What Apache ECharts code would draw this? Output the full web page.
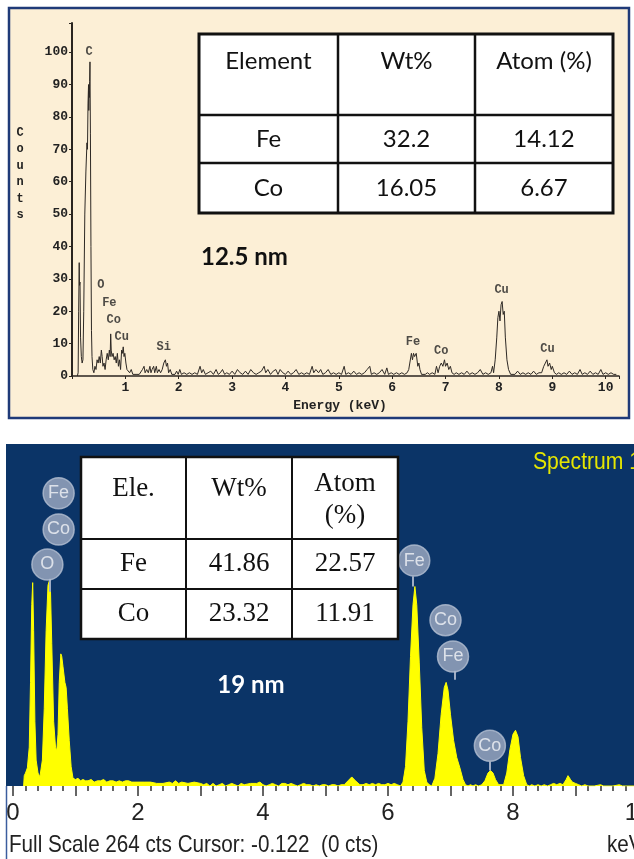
<!DOCTYPE html>
<html>
<head>
<meta charset="utf-8">
<script src="https://cdn.jsdelivr.net/npm/echarts@6/dist/echarts.min.js"></script>
<style>
html,body{margin:0;padding:0;background:#fff;}
#chart{width:634px;height:859px;}
</style>
</head>
<body>
<div id="chart"></div>
<script>
// ---------- DATA ----------
// Top panel (12.5 nm): EDS spectrum, [energy keV, counts]
const topSpectrum = [
[0.10,0],[0.115,1],[0.125,20],[0.135,35],[0.14,28],[0.15,29],[0.16,12],[0.175,6],[0.19,4],[0.205,5],
[0.22,20],[0.24,50],[0.26,63],[0.28,72],[0.29,70],[0.30,84],[0.31,90],[0.315,82],[0.32,88],[0.325,86],
[0.33,91],[0.337,97],[0.345,75],[0.355,40],[0.365,14],[0.375,6],[0.39,2],[0.41,1],[0.43,3],[0.45,2],
[0.47,5],[0.49,4],[0.51,6],[0.53,4],[0.55,8],[0.565,6],[0.58,3],[0.60,4],[0.62,2],[0.64,5],
[0.66,7],[0.68,5],[0.70,8],[0.715,6],[0.725,13],[0.735,8],[0.75,6],[0.77,7],[0.79,5],[0.81,6],
[0.83,4],[0.85,7],[0.87,3],[0.89,5],[0.91,2],[0.93,8],[0.945,7],[0.96,9],[0.975,6],[0.99,7],
[1.01,4],[1.03,2],[1.05,2],[1.08,1],[1.11,2],[1.14,0.5],[1.17,1],[1.20,0.5],[1.23,1],[1.26,0.5],
[1.29,1],[1.32,2],[1.35,3],[1.37,1],[1.40,2],[1.43,1],[1.46,3],[1.48,1],[1.50,2],[1.53,3],
[1.55,1],[1.58,3],[1.60,1],[1.63,2],[1.66,1],[1.69,2],[1.72,4],[1.75,5],[1.77,3],[1.79,4],
[1.81,1],[1.84,2],[1.87,0.5],[1.90,1],[1.93,0.5],[1.96,1.5],[1.99,0.5],[2.02,2],[2.05,0.5],[2.10,1],
[2.15,0.5],[2.20,1],[2.25,0.5],[2.30,1],[2.35,0.5],[2.40,3],[2.43,1],[2.46,2],[2.50,0.5],[2.55,1],
[2.60,1.5],[2.65,0.5],[2.70,2],[2.74,0.5],[2.78,1],[2.82,2],[2.86,0.5],[2.90,1],[2.95,0.5],[3.00,1.5],
[3.05,0.5],[3.10,2],[3.15,1],[3.20,0.5],[3.25,1.5],[3.30,0.5],[3.35,2],[3.40,1],[3.45,0.5],[3.50,1],
[3.55,1.5],[3.60,3],[3.63,1],[3.67,2],[3.72,0.5],[3.77,1.5],[3.82,2],[3.86,0.5],[3.90,2],[3.95,1],
[4.00,0.5],[4.05,1.5],[4.10,0.5],[4.15,1],[4.20,2],[4.25,0.5],[4.30,1],[4.35,0.5],[4.40,1],[4.45,0.5],
[4.50,3],[4.53,1],[4.57,2],[4.62,1],[4.66,2],[4.70,0.5],[4.75,1],[4.80,2],[4.85,0.5],[4.90,1],
[4.95,0.5],[5.00,1],[5.05,0.5],[5.10,3],[5.13,0.5],[5.18,1],[5.23,0.5],[5.28,1.5],[5.33,0.5],[5.38,1],
[5.43,0.5],[5.48,1],[5.53,2],[5.58,3],[5.61,0.5],[5.66,1],[5.71,0.5],[5.76,1],[5.81,2],[5.86,0.5],
[5.90,2.5],[5.93,0.5],[5.98,1],[6.03,0.5],[6.08,1],[6.13,0.5],[6.18,1],[6.23,0.5],[6.28,1],[6.31,2],
[6.33,4],[6.36,7],[6.38,5],[6.40,7],[6.42,6],[6.45,7],[6.48,3],[6.50,4],[6.52,2],[6.55,0.5],
[6.58,1],[6.62,0.5],[6.66,1],[6.70,0.5],[6.75,1],[6.80,0.5],[6.83,3],[6.86,1],[6.89,3],[6.92,4],
[6.95,3],[6.98,5],[7.00,3],[7.03,4],[7.06,2],[7.09,3],[7.12,1],[7.16,0.5],[7.20,1],[7.25,0.5],
[7.30,1],[7.35,0.5],[7.40,1.5],[7.45,0.5],[7.50,1],[7.55,0.5],[7.60,1],[7.65,2],[7.70,0.5],[7.75,1],
[7.80,0.5],[7.85,1],[7.88,3],[7.90,1],[7.93,5],[7.96,12],[7.98,18],[8.00,20],[8.02,17],[8.04,22],
[8.06,23],[8.08,19],[8.10,20],[8.12,12],[8.15,5],[8.18,2],[8.22,0.5],[8.25,1],[8.30,0.5],[8.35,1.5],
[8.40,0.5],[8.45,1],[8.50,0.5],[8.55,1],[8.60,0.5],[8.65,1.5],[8.70,0.5],[8.75,1],[8.80,1],[8.84,3],
[8.87,4],[8.90,5],[8.92,3],[8.95,4],[8.98,2],[9.00,3],[9.04,1],[9.08,0.5],[9.12,1],[9.17,0.5],
[9.22,1],[9.27,0.5],[9.32,1.5],[9.37,0.5],[9.42,1],[9.47,0.5],[9.52,2],[9.56,0.5],[9.61,1],[9.66,0.5],
[9.71,1.5],[9.76,0.5],[9.81,1],[9.86,0.5],[9.91,2],[9.95,0.5],[10.00,1],[10.05,0.5],[10.10,1],[10.15,0.5],
[10.20,0.5]
];
// Top panel peak labels: [energy, counts, text]
const topPeakLabels = [
[0.32,100,'C'],[0.54,28,'O'],[0.70,22.6,'Fe'],[0.78,17.3,'Co'],[0.93,12,'Cu'],[1.72,8.9,'Si'],
[6.39,10.6,'Fe'],[6.92,7.7,'Co'],[8.05,26.5,'Cu'],[8.91,8.4,'Cu']
];
const topTickLabelsY = [0,10,20,30,40,50,60,70,80,90,100];
const topTableHeader = ['Element','Wt%','Atom (%)'];
const topTableRows = [['Fe','32.2','14.12'],['Co','16.05','6.67']];
const topSizeLabel = '12.5 nm';

// Bottom panel (19 nm): EDS spectrum, [energy keV, counts] (full scale 264 cts)
const bottomSpectrum = [
[0.17,0],[0.18,8],[0.20,10],[0.23,14],[0.26,30],[0.28,80],[0.30,140],[0.315,157],[0.33,120],[0.35,50],
[0.37,20],[0.40,10],[0.43,7],[0.45,8],[0.47,20],[0.50,60],[0.53,120],[0.56,155],[0.585,159],[0.60,150],
[0.62,110],[0.65,50],[0.68,30],[0.70,27],[0.72,40],[0.74,80],[0.765,102],[0.78,100],[0.80,92],[0.83,80],
[0.85,76],[0.87,60],[0.90,35],[0.93,15],[0.96,6],[1.00,5],[1.04,6],[1.08,4],[1.12,5],[1.16,4],
[1.20,4],[1.25,5],[1.30,3],[1.35,4],[1.40,4],[1.45,5],[1.50,3],[1.55,4],[1.60,4],[1.65,3],
[1.70,4],[1.75,3],[1.80,4],[1.85,4],[1.90,3],[1.95,3],[2.00,3],[2.10,3],[2.20,3],[2.30,2],
[2.40,2],[2.50,3],[2.55,2],[2.60,4],[2.65,2],[2.70,3],[2.80,2],[2.90,3],[3.00,2],[3.05,1],
[3.10,2],[3.15,0],[3.20,2],[3.25,0],[3.30,1],[3.35,2],[3.40,0],[3.45,1],[3.50,2],[3.55,1],
[3.60,0],[3.65,2],[3.70,1],[3.80,2],[3.90,2],[3.95,3],[4.00,1],[4.05,0],[4.10,1],[4.15,2],
[4.20,1],[4.25,0],[4.30,2],[4.35,2],[4.40,1],[4.45,2],[4.50,1],[4.55,0],[4.60,1],[4.65,2],
[4.70,1],[4.75,1],[4.80,0],[4.85,1],[4.90,0],[4.95,1],[5.00,1],[5.05,0],[5.10,1],[5.15,1],
[5.20,0],[5.25,1],[5.30,1],[5.36,4],[5.42,7],[5.48,4],[5.55,1],[5.60,1],[5.65,2],[5.70,1],
[5.75,2],[5.80,1],[5.85,2],[5.90,1],[5.95,1],[6.00,2],[6.05,1],[6.10,2],[6.15,1],[6.20,0],
[6.24,3],[6.28,15],[6.32,50],[6.36,100],[6.40,140],[6.43,154],[6.46,140],[6.50,95],[6.54,45],[6.58,12],
[6.62,3],[6.66,1],[6.70,0],[6.72,1],[6.75,6],[6.80,25],[6.85,55],[6.90,76],[6.93,80],[6.96,74],
[7.00,55],[7.05,35],[7.10,22],[7.15,14],[7.20,5],[7.24,1],[7.28,0],[7.32,1],[7.36,0],[7.40,1],
[7.45,0],[7.50,1],[7.55,4],[7.60,10],[7.64,12],[7.68,10],[7.72,5],[7.77,1],[7.80,0],[7.85,1],
[7.90,10],[7.95,28],[8.00,40],[8.04,43],[8.08,38],[8.12,22],[8.17,8],[8.22,1],[8.26,0],[8.30,1],
[8.35,0],[8.40,1],[8.45,0],[8.50,1],[8.55,0],[8.60,1],[8.65,2],[8.70,1],[8.75,2],[8.80,1],
[8.85,5],[8.88,8],[8.92,5],[8.95,3],[9.00,2],[9.05,1],[9.10,0],[9.15,1],[9.20,0],[9.30,0],
[9.40,1],[9.45,0],[9.60,0],[9.70,1],[9.75,0],[10.00,0]
];
// Bottom panel element bubbles: [energy, counts, text]
const bottomBubbles = [
[0.73,226,'Fe'],[0.73,198,'Co'],[0.55,171,'O'],[6.42,174,'Fe'],[6.92,128,'Co'],[7.04,100,'Fe'],[7.63,31,'Co']
];
// Bubble stems: [energy, fromCounts, toCounts]
const bottomStems = [[0.58,160,150],[6.39,162,154],[7.06,89,82],[7.63,19,12]];
const bottomTableHeader = ['Ele.','Wt%','Atom\n(%)'];
const bottomTableRows = [['Fe','41.86','22.57'],['Co','23.32','11.91']];
const bottomSizeLabel = '19 nm';
const bottomSpectrumName = 'Spectrum 1';
const bottomStatus = 'Full Scale 264 cts Cursor: -0.122  (0 cts)';
const bottomUnit = 'keV';

// ---------- LAYOUT ----------
const SANS = '"Liberation Sans",Arial,sans-serif';
const MONO = '"Liberation Mono","DejaVu Sans Mono",monospace';

function table(cols, rows, header, body, opt) {
  const els = [];
  els.push({type:'rect', z:20, shape:{x:cols[0],y:rows[0],width:cols[cols.length-1]-cols[0],height:rows[rows.length-1]-rows[0]},
    style:{fill:'#ffffff', stroke:'#111', lineWidth:opt.outer}});
  for (let i=1;i<cols.length-1;i++) els.push({type:'line', z:21, shape:{x1:cols[i],y1:rows[0],x2:cols[i],y2:rows[rows.length-1]}, style:{stroke:'#111',lineWidth:opt.inner}});
  for (let j=1;j<rows.length-1;j++) els.push({type:'line', z:21, shape:{x1:cols[0],y1:rows[j],x2:cols[cols.length-1],y2:rows[j]}, style:{stroke:'#111',lineWidth:opt.inner}});
  header.forEach((h,i)=>{
    const multi = h.indexOf('\n')>=0;
    els.push({type:'text', z:22, x:(cols[i]+cols[i+1])/2, y: multi ? opt.headerYMulti : opt.headerY,
      style:{text:h, fill:'#111', font:opt.font, align:'center', verticalAlign:'middle', lineHeight:opt.lineHeight}});
  });
  body.forEach((r,j)=>{
    r.forEach((c,i)=>{
      els.push({type:'text', z:22, x:(cols[i]+cols[i+1])/2, y:(rows[j+1]+rows[j+2])/2,
        style:{text:c, fill:'#111', font:opt.font, align:'center', verticalAlign:'middle'}});
    });
  });
  return els;
}

const graphics = [
  {type:'rect', z:-10, shape:{x:9,y:8,width:620,height:410}, style:{fill:'#fcefd6', stroke:'#1f3a78', lineWidth:2.5}},
  {type:'rect', z:-10, shape:{x:6,y:444,width:628,height:342}, style:{fill:'#0b3467'}},
  {type:'line', z:-9, shape:{x1:6.5,y1:786,x2:6.5,y2:859}, style:{stroke:'#3b5d9e', lineWidth:1.5}},
  {type:'text', x:20, y:174, style:{text:'C\no\nu\nn\nt\ns', font:'bold 12px '+MONO, fill:'#222', align:'center', verticalAlign:'middle', lineHeight:16.5}},
  {type:'text', x:340, y:406, style:{text:'Energy (keV)', font:'bold 13px '+MONO, fill:'#222', align:'center', verticalAlign:'middle'}},
  {type:'text', x:201, y:257, style:{text:topSizeLabel, font:'bold 24px Lato, sans-serif', fill:'#111', align:'left', verticalAlign:'middle'}},
  {type:'text', x:251, y:685, z:5, style:{text:bottomSizeLabel, font:'bold 24px Lato, sans-serif', fill:'#ffffff', align:'center', verticalAlign:'middle'}},
  {type:'text', x:533, y:462, z:5, scaleX:0.88, style:{text:bottomSpectrumName, font:'24px '+SANS, fill:'#e6e600', align:'left', verticalAlign:'middle'}},
  {type:'text', x:9, y:845, scaleX:0.86, style:{text:bottomStatus, font:'24px '+SANS, fill:'#222', align:'left', verticalAlign:'middle'}},
  {type:'text', x:607, y:845, scaleX:0.86, style:{text:bottomUnit, font:'24px '+SANS, fill:'#222', align:'left', verticalAlign:'middle'}}
].concat(
  table([199,338,475,613],[34,115,163,213], topTableHeader, topTableRows,
    {outer:3, inner:2.5, font:'24px Lato, sans-serif', headerY:61, headerYMulti:61, lineHeight:28}),
  table([81,186,292,398],[457,539,589,639], bottomTableHeader, bottomTableRows,
    {outer:2.5, inner:2, font:'27px "Liberation Serif","Times New Roman",serif', headerY:489, headerYMulti:500, lineHeight:32})
);

const chart = echarts.init(document.getElementById('chart'), null, {renderer:'canvas'});
chart.setOption({
  animation:false,
  backgroundColor:'#ffffff',
  grid:[
    {left:72, top:23, width:547, height:353, containLabel:false, outerBoundsMode:'none'},
    {left:13, top:444, width:625, height:342, containLabel:false, outerBoundsMode:'none'}
  ],
  xAxis:[
    {gridIndex:0, type:'value', min:0, max:10.25, interval:1,
     axisLine:{show:true, lineStyle:{color:'#2a2520', width:1.5}},
     axisTick:{show:true, length:3, lineStyle:{color:'#2a2520'}},
     splitLine:{show:false},
     axisLabel:{margin:5, color:'#222', fontFamily:MONO, fontWeight:'bold', fontSize:13,
       formatter:v=> (v<=0||v>10)?'':String(v)}},
    {gridIndex:1, type:'value', min:0, max:10, interval:1,
     axisLine:{show:false},
     axisTick:{show:true, length:10, lineStyle:{color:'#333', width:1.5}},
     minorTick:{show:true, splitNumber:5, length:5, lineStyle:{color:'#333', width:1.5}},
     splitLine:{show:false},
     axisLabel:{margin:15, color:'#222', fontFamily:SANS, fontSize:24, showMinLabel:true, showMaxLabel:true,
       formatter:v=> (v%2===0)?String(v):''}}
  ],
  yAxis:[
    {gridIndex:0, type:'value', min:0, max:109, interval:10,
     axisLine:{show:true, lineStyle:{color:'#2a2520', width:2}},
     axisTick:{show:true, length:3, lineStyle:{color:'#2a2520'}},
     splitLine:{show:false},
     axisLabel:{margin:4, color:'#222', fontFamily:MONO, fontWeight:'bold', fontSize:13,
       formatter:v=> topTickLabelsY.indexOf(v)>=0 ? String(v) : ''}},
    {gridIndex:1, type:'value', min:0, max:264, show:false}
  ],
  graphic:graphics,
  series:[
    {type:'line', xAxisIndex:0, yAxisIndex:0, data:topSpectrum, showSymbol:false, symbol:'none',
     lineStyle:{color:'#2e2925', width:1}, z:3},
    {type:'scatter', xAxisIndex:0, yAxisIndex:0, data:topPeakLabels.map(p=>({value:[p[0],p[1]], name:p[2]})),
     symbolSize:1, itemStyle:{color:'rgba(0,0,0,0)'},
     label:{show:true, position:'inside', formatter:p=>p.name, color:'#222', fontFamily:MONO, fontWeight:'bold', fontSize:12}, z:4},
    {type:'line', xAxisIndex:1, yAxisIndex:1, data:bottomSpectrum, showSymbol:false, symbol:'none',
     lineStyle:{color:'#ffff00', width:1}, areaStyle:{color:'#ffff00', opacity:1}, z:3},
    {type:'scatter', xAxisIndex:1, yAxisIndex:1, data:bottomBubbles.map(p=>({value:[p[0],p[1]], name:p[2]})),
     symbol:'circle', symbolSize:31, itemStyle:{color:'#a0adc4', borderColor:'#b4bfd2', borderWidth:1.5},
     label:{show:true, position:'inside', formatter:p=>p.name, color:'#f2f4f8', fontFamily:SANS, fontSize:18},
     markLine:{silent:true, symbol:['none','none'], label:{show:false}, lineStyle:{color:'#a0adc4', width:2, type:'solid'},
       data: bottomStems.map(s=>[{coord:[s[0],s[1]]},{coord:[s[0],s[2]]}])}, z:6}
  ]
});
</script>
</body>
</html>
